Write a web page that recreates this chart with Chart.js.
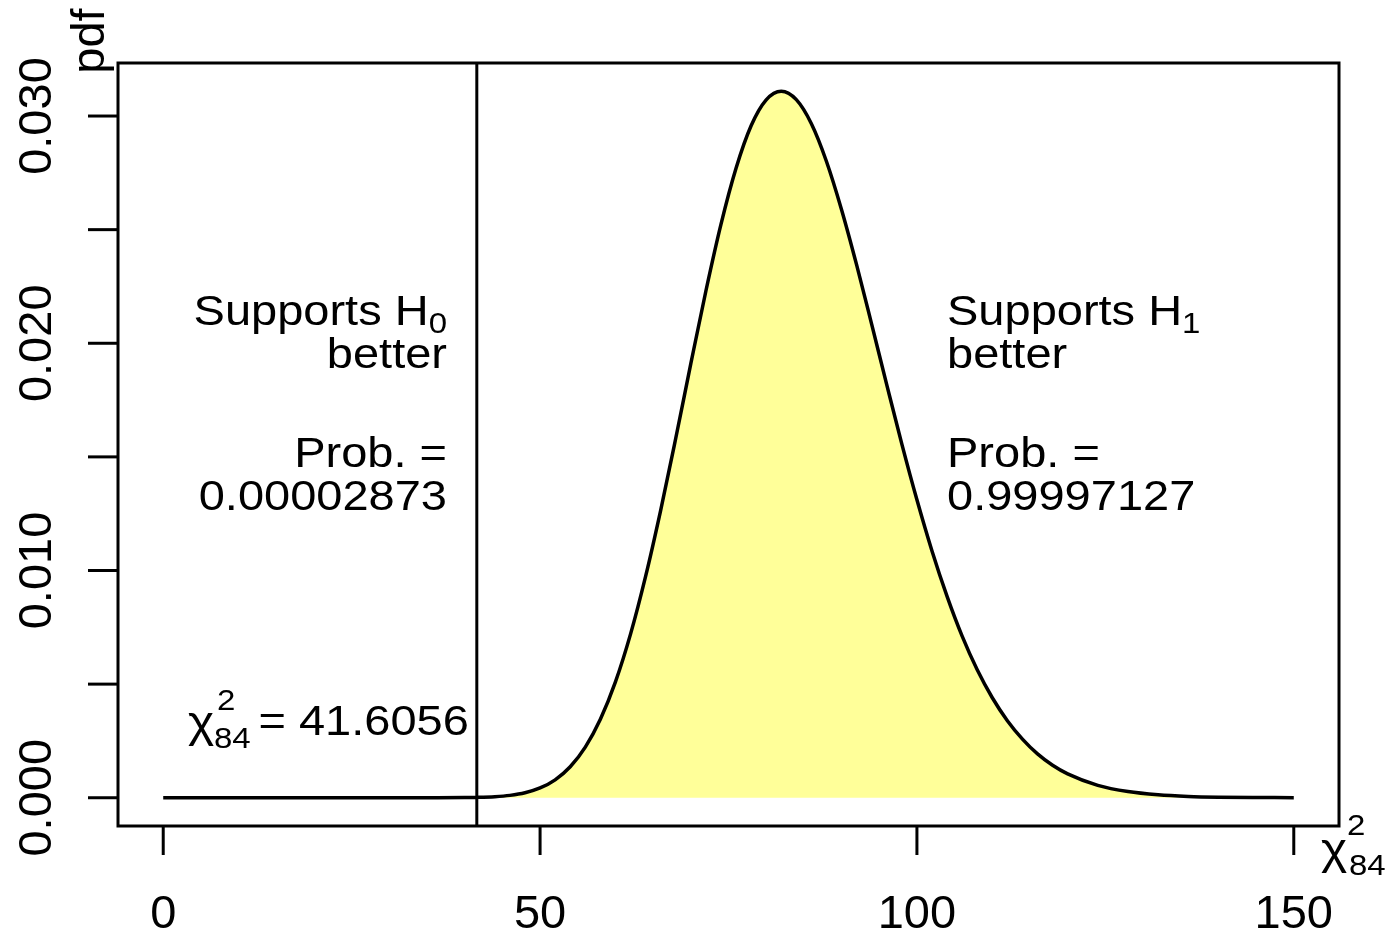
<!DOCTYPE html>
<html>
<head>
<meta charset="utf-8">
<script src="https://cdn.jsdelivr.net/npm/chart.js@4.4.1/dist/chart.umd.min.js"></script>
<style>
  html, body { margin: 0; padding: 0; background: #fff; }
  #wrap { width: 1387px; height: 935px; }
</style>
</head>
<body>
<div id="wrap"><canvas id="c" width="1387" height="935"></canvas></div>
<script>
// chi-square density (84 df)
const pdfX = [0, 10, 20, 30, 36, 40, 41.6056, 44, 46, 48, 50, 52, 54, 56, 58, 60, 62, 64, 66, 68, 70,
    72, 74, 76, 78, 80, 82, 84, 86, 88, 90, 92, 94, 96, 98, 100, 102, 104, 106, 108, 110,
    112, 114, 116, 118, 120, 124, 128, 132, 136, 140, 145, 150];
const pdfY = [0, 0, 0, 0, 0.0000007, 0.0000068, 0.0000153, 0.0000455, 0.000104, 0.000219, 0.00043,
    0.000789, 0.001364, 0.002229, 0.003456, 0.0051, 0.0072, 0.00974, 0.01265, 0.01582, 0.0191,
    0.0223, 0.02523, 0.0277, 0.02957, 0.03071, 0.03109, 0.03072, 0.02966, 0.028, 0.02588,
    0.02345, 0.02083, 0.01817, 0.01556, 0.01311, 0.01086, 0.00886, 0.00711, 0.00563, 0.0044,
    0.00339, 0.00258, 0.00193, 0.00143, 0.00105, 0.000545, 0.000271, 0.00013, 0.0000596,
    0.0000265, 0.00001, 0.000004];
const chiStat = 41.6056;
const xTicks = [0, 50, 100, 150];
const yTicks = [0, 0.005, 0.010, 0.015, 0.020, 0.025, 0.030];
const yTickLabels = ['0.000', '', '0.010', '', '0.020', '', '0.030'];
const probH0 = '0.00002873';
const probH1 = '0.99997127';

const FONT = '"Liberation Sans", Arial, sans-serif';

const curve = pdfX.map((x, i) => ({ x: x, y: pdfY[i] }));
const tail = curve.filter(p => p.x >= chiStat);

// draws a run of text pieces (with sub/superscripts) from x on baseline y
function rich(ctx, parts, x, y, align, sy) {
    ctx.save();
    ctx.textBaseline = 'alphabetic';
    ctx.textAlign = 'left';
    let total = 0;
    parts.forEach(p => {
        ctx.font = p.size + 'px ' + FONT;
        p.w = ctx.measureText(p.s).width;
        total += p.w;
    });
    let cx = align === 'right' ? x - total : x;
    parts.forEach(p => {
        ctx.save();
        ctx.translate(cx, y + (p.dy || 0));
        ctx.scale(1, sy || 1);
        ctx.font = p.size + 'px ' + FONT;
        ctx.fillText(p.s, 0, 0);
        ctx.restore();
        cx += p.w;
    });
    ctx.restore();
}

const decor = {
    id: 'decor',
    afterDatasetsDraw(chart) {
        const ctx = chart.ctx;
        const a = chart.chartArea;
        const xs = chart.scales.x, ys = chart.scales.y;
        ctx.save();
        ctx.strokeStyle = '#000';
        ctx.fillStyle = '#000';

        // test statistic line
        ctx.lineWidth = 3;
        const vx = xs.getPixelForValue(chiStat);
        ctx.beginPath();
        ctx.moveTo(vx, a.top);
        ctx.lineTo(vx, a.bottom);
        ctx.stroke();

        // box
        ctx.lineWidth = 3;
        ctx.strokeRect(a.left, a.top, a.right - a.left, a.bottom - a.top);

        // x axis
        ctx.lineWidth = 3;
        ctx.textAlign = 'center';
        ctx.textBaseline = 'alphabetic';
        ctx.font = '47px ' + FONT;
        xTicks.forEach(v => {
            const px = xs.getPixelForValue(v);
            ctx.beginPath();
            ctx.moveTo(px, a.bottom);
            ctx.lineTo(px, a.bottom + 29);
            ctx.stroke();
            ctx.fillText(String(v), px, 928);
        });

        // y axis
        yTicks.forEach((v, i) => {
            const py = ys.getPixelForValue(v);
            ctx.beginPath();
            ctx.moveTo(a.left, py);
            ctx.lineTo(a.left - 30, py);
            ctx.stroke();
            if (yTickLabels[i]) {
                ctx.save();
                ctx.translate(51, py);
                ctx.rotate(-Math.PI / 2);
                ctx.textAlign = 'center';
                ctx.fillText(yTickLabels[i], 0, 0);
                ctx.restore();
            }
        });

        // y title
        ctx.save();
        ctx.translate(104, 41);
        ctx.rotate(-Math.PI / 2);
        ctx.textAlign = 'center';
        ctx.font = '47px ' + FONT;
        ctx.fillText('pdf', 0, 0);
        ctx.restore();

        // x title chi^2_84
        rich(ctx, [{ s: 'χ', size: 50 }], 1321, 864, 'left', 0.9);
        rich(ctx, [{ s: '2', size: 33 }], 1347, 835, 'left', 0.9);
        rich(ctx, [{ s: '84', size: 33 }], 1349, 875, 'left', 0.9);

        // left annotations
        const sy = 0.9;
        const L = 447, R = 947;
        rich(ctx, [{ s: 'Supports H', size: 47 }, { s: '0', size: 33, dy: 8 }], L, 325, 'right', sy);
        rich(ctx, [{ s: 'better', size: 47 }], L, 368, 'right', sy);
        rich(ctx, [{ s: 'Prob. =', size: 47 }], L, 467, 'right', sy);
        rich(ctx, [{ s: probH0, size: 47 }], L, 510, 'right', sy);

        // right annotations
        rich(ctx, [{ s: 'Supports H', size: 47 }, { s: '1', size: 33, dy: 8 }], R, 325, 'left', sy);
        rich(ctx, [{ s: 'better', size: 47 }], R, 368, 'left', sy);
        rich(ctx, [{ s: 'Prob. =', size: 47 }], R, 467, 'left', sy);
        rich(ctx, [{ s: probH1, size: 47 }], R, 510, 'left', sy);

        // statistic label
        rich(ctx, [{ s: 'χ', size: 50 }], 188, 737, 'left', sy);
        rich(ctx, [{ s: '2', size: 33 }], 217, 710, 'left', sy);
        rich(ctx, [{ s: '84', size: 33 }], 214, 748, 'left', sy);
        rich(ctx, [{ s: '= ' + chiStat.toFixed(4), size: 47 }], vx - 8, 735, 'right', sy);

        ctx.restore();
    }
};

new Chart(document.getElementById('c'), {
    type: 'line',
    data: {
        datasets: [
            {
                data: tail,
                order: 2,
                borderWidth: 0,
                borderColor: 'rgba(0,0,0,0)',
                backgroundColor: '#ffff99',
                fill: 'origin',
                pointRadius: 0,
                cubicInterpolationMode: 'monotone'
            },
            {
                data: curve,
                order: 1,
                borderColor: '#000',
                borderWidth: 3.5,
                fill: false,
                pointRadius: 0,
                cubicInterpolationMode: 'monotone'
            }
        ]
    },
    options: {
        responsive: false,
        animation: false,
        devicePixelRatio: 1,
        layout: { padding: { left: 118, right: 48, top: 63, bottom: 109 } },
        plugins: { legend: { display: false }, tooltip: { enabled: false } },
        scales: {
            x: { type: 'linear', min: -6, max: 156, display: false },
            y: { type: 'linear', min: -0.0012436, max: 0.0323336, display: false }
        }
    },
    plugins: [decor]
});
</script>
</body>
</html>
